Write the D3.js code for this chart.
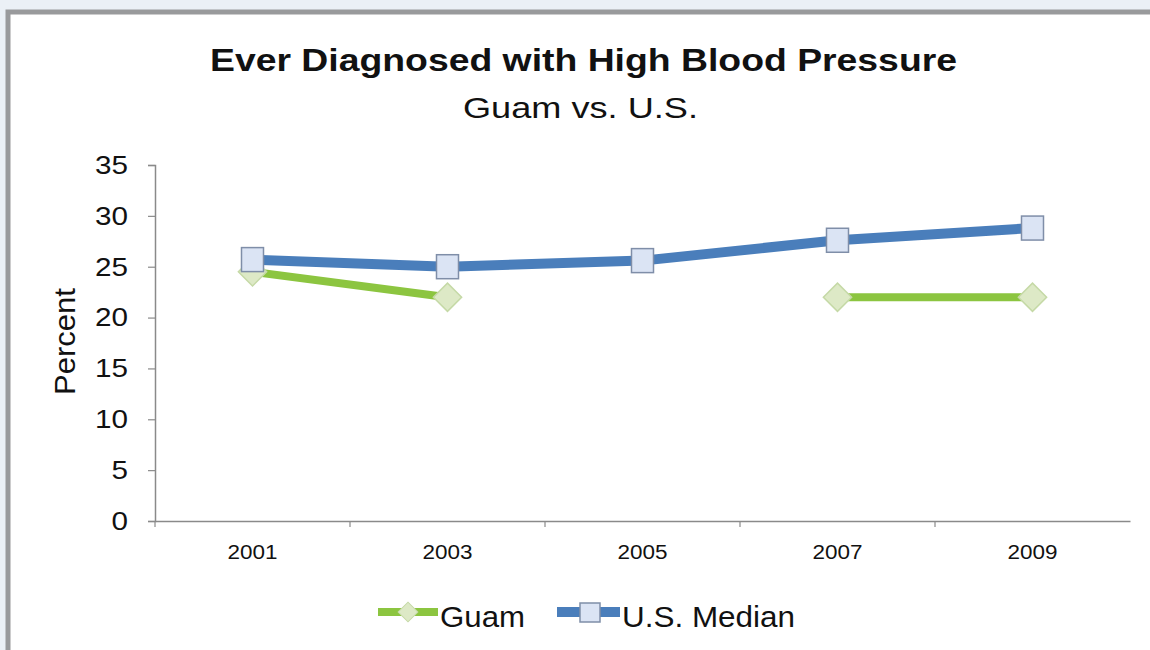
<!DOCTYPE html>
<html><head><meta charset="utf-8">
<script src="https://cdn.jsdelivr.net/npm/d3@7"></script>
<style>body{margin:0;background:#ebf0f6;}svg{display:block;font-family:"Liberation Sans",Arial,sans-serif;}</style>
</head><body>
<script>
const years = ["2001","2003","2005","2007","2009"];
const guam = [24.5, 22.0, null, 22.0, 22.0];
const usMedian = [25.7, 25.0, 25.6, 27.6, 28.8];
const yTicks = [0,5,10,15,20,25,30,35];
const FONT = '"Liberation Sans",Arial,sans-serif';

const W=1150,H=650;
const svg=d3.select("body").append("svg").attr("width",W).attr("height",H);
svg.append("rect").attr("x",0).attr("y",0).attr("width",W).attr("height",H).attr("fill","#ebf0f6");
svg.append("rect").attr("x",8).attr("y",12).attr("width",1150).attr("height",650).attr("fill","#fff").attr("stroke","#999a9c").attr("stroke-width",5);

const x=d3.scaleBand().domain(years).range([155,1130]);
const y=d3.scaleLinear().domain([0,35]).range([521,165]);

// title
svg.append("text").attr("x",583.5).attr("y",71).attr("text-anchor","middle").attr("font-size",31).attr("font-weight","bold").attr("fill","#111")
  .attr("textLength",747).attr("lengthAdjust","spacingAndGlyphs").text("Ever Diagnosed with High Blood Pressure");
svg.append("text").attr("x",580.5).attr("y",118).attr("text-anchor","middle").attr("font-size",29).attr("fill","#111")
  .attr("textLength",235).attr("lengthAdjust","spacingAndGlyphs").text("Guam vs. U.S.");

// y axis
const ya=svg.append("g").attr("transform","translate(155,0)").call(d3.axisLeft(y).tickValues(yTicks).tickSize(7).tickPadding(20));
ya.select(".domain").attr("stroke","#8a8a8a").attr("stroke-width",1.5);
ya.selectAll(".tick line").attr("stroke","#8a8a8a").attr("stroke-width",1.2);
ya.selectAll("text").attr("font-size",26).attr("fill","#111").attr("font-family",FONT)
  .attr("textLength",d=>String(d).length*16.5).attr("lengthAdjust","spacingAndGlyphs");

// x axis
const xa=svg.append("g").attr("transform","translate(0,521)").call(d3.axisBottom(x).tickSize(0).tickPadding(24));
xa.select(".domain").attr("stroke","#8a8a8a").attr("stroke-width",1.5);
xa.selectAll("text").attr("font-size",19.5).attr("fill","#111").attr("font-family",FONT)
  .attr("textLength",50).attr("lengthAdjust","spacingAndGlyphs");
const bounds=[x.range()[0]].concat(years.slice(0,4).map(d=>x(d)+x.bandwidth()));
xa.selectAll(".bt").data(bounds).enter().append("line").attr("x1",d=>d).attr("x2",d=>d).attr("y1",0).attr("y2",6).attr("stroke","#8a8a8a").attr("stroke-width",1.2);

// y label
svg.append("text").attr("transform","translate(75,341.5) rotate(-90)").attr("text-anchor","middle").attr("font-size",29).attr("fill","#111")
  .attr("textLength",107).attr("lengthAdjust","spacingAndGlyphs").text("Percent");

const cx=d=>x(d)+x.bandwidth()/2;
const gData=years.map((d,i)=>({x:d,v:guam[i]}));
const uData=years.map((d,i)=>({x:d,v:usMedian[i]}));
const line=d3.line().defined(d=>d.v!==null).x(d=>cx(d.x)).y(d=>y(d.v));

const GREEN="#8cc540", BLUE="#4a7ebb";
svg.append("path").datum(gData).attr("d",line).attr("fill","none").attr("stroke",GREEN).attr("stroke-width",8).attr("stroke-linejoin","round");
svg.selectAll(".gm").data(gData.filter(d=>d.v!==null)).enter().append("rect")
  .attr("x",-10).attr("y",-10).attr("width",20).attr("height",20)
  .attr("transform",d=>`translate(${cx(d.x)},${y(d.v)}) rotate(45)`)
  .attr("fill","#dde9c6").attr("stroke","#c5d9a6").attr("stroke-width",1.5);
svg.append("path").datum(uData).attr("d",line).attr("fill","none").attr("stroke",BLUE).attr("stroke-width",10).attr("stroke-linejoin","round");
svg.selectAll(".um").data(uData).enter().append("rect")
  .attr("x",d=>cx(d.x)-11).attr("y",d=>y(d.v)-12).attr("width",22).attr("height",24)
  .attr("fill","#dbe4f4").attr("stroke","#7f8ea8").attr("stroke-width",1.5);

// legend
const lg=svg.append("g");
lg.append("line").attr("x1",378).attr("x2",438).attr("y1",612).attr("y2",612).attr("stroke",GREEN).attr("stroke-width",8);
lg.append("rect").attr("x",-7).attr("y",-7).attr("width",14).attr("height",14).attr("transform","translate(408,612) rotate(45)").attr("fill","#dde9c6").attr("stroke","#c5d9a6");
lg.append("text").attr("x",440).attr("y",627).attr("font-size",30).attr("fill","#111")
  .attr("textLength",85).attr("lengthAdjust","spacingAndGlyphs").text("Guam");
lg.append("line").attr("x1",557).attr("x2",620).attr("y1",612).attr("y2",612).attr("stroke",BLUE).attr("stroke-width",10);
lg.append("rect").attr("x",580).attr("y",603).attr("width",20).attr("height",19).attr("fill","#dbe4f4").attr("stroke","#7f8ea8").attr("stroke-width",1.5);
lg.append("text").attr("x",622).attr("y",627).attr("font-size",30).attr("fill","#111")
  .attr("textLength",173).attr("lengthAdjust","spacingAndGlyphs").text("U.S. Median");
</script>
</body></html>
